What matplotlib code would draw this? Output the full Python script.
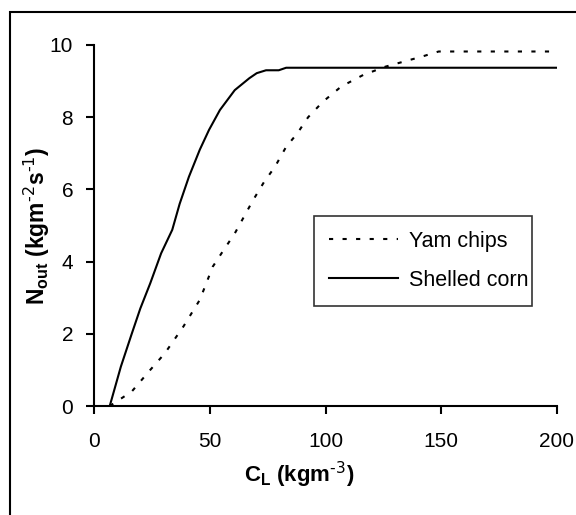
import numpy as np
import matplotlib
matplotlib.use('Agg')
import matplotlib.pyplot as plt
from matplotlib.patches import Rectangle

plt.rcParams['font.family'] = ['Liberation Sans', 'DejaVu Sans']
plt.rcParams['mathtext.default'] = 'regular'

# Shelled corn (solid)
corn_x = [6.8, 11.6, 16.3, 20.0, 24.3, 29.0, 33.8, 37.0, 41.0, 45.7, 49.7, 54.4, 60.8, 67.1, 70.3, 74.3, 79.8, 83.0, 200.0]
corn_y = [0.0, 1.09, 2.0, 2.7, 3.4, 4.23, 4.88, 5.6, 6.35, 7.1, 7.65, 8.2, 8.75, 9.08, 9.22, 9.3, 9.3, 9.37, 9.37]

# Yam chips (dotted)
yam_x = [6.8, 16.3, 24.3, 30.6, 38.6, 45.7, 51.3, 56.0, 60.8, 68.7, 73.5, 78.2, 83.0, 87.8, 92.5, 98.9,
         106.8, 116.3, 125.9, 133.8, 141.7, 148.9, 200.0]
yam_y = [0.0, 0.4, 1.0, 1.46, 2.2, 2.94, 3.86, 4.32, 4.78, 5.7, 6.21, 6.63, 7.18, 7.55, 8.0, 8.43,
         8.85, 9.17, 9.4, 9.54, 9.68, 9.82, 9.82]

fig = plt.figure(figsize=(5.76, 5.15), dpi=100)
ax = fig.add_axes([94/576, 1 - 406/515, (557 - 94)/576, (406 - 45)/515])

ax.plot(yam_x, yam_y, color='black', lw=1.5, linestyle=(0, (2, 4.5)), label='Yam chips')
ax.plot(corn_x, corn_y, color='black', lw=1.5, label='Shelled corn')

ax.set_xlim(0, 200)
ax.set_ylim(0, 10)
ax.set_xticks([0, 50, 100, 150, 200])
ax.set_yticks([0, 2, 4, 6, 8, 10])
for s in ['top', 'right']:
    ax.spines[s].set_visible(False)
for s in ['left', 'bottom']:
    ax.spines[s].set_linewidth(1.5)
ax.tick_params(direction='out', length=6, width=1.5, labelsize=15)
ax.tick_params(axis='y', pad=9)
ax.tick_params(axis='x', pad=13)

ax.set_xlabel('C$_L$ (kgm$^{\\text{-3}}$)', fontsize=16, fontweight='bold')
ax.xaxis.set_label_coords((299 - 94)/463, -0.15)
ax.set_ylabel('N$_{out}$ (kgm$^{\\text{-2}}$s$^{\\text{-1}}$)', fontsize=16.5, fontweight='bold')
ax.yaxis.set_label_coords(-0.09, 0.5)

leg = ax.legend(loc='lower left', bbox_to_anchor=(95/200, 0.277, 94/200, 0.249), mode='expand',
                fontsize=15.5, frameon=True, fancybox=False, edgecolor='black',
                handlelength=3.2, handletextpad=0.5, borderpad=0.7, labelspacing=0.85,
                borderaxespad=0)
leg.get_frame().set_linewidth(1.2)

# outer chart border (cropped on right and bottom)
fig.patches.append(Rectangle((10/576, -0.1), 1.2, 1 - 12/515 + 0.1, transform=fig.transFigure,
                             fill=False, edgecolor='black', lw=1.5))

fig.savefig('out.png', dpi=100)
